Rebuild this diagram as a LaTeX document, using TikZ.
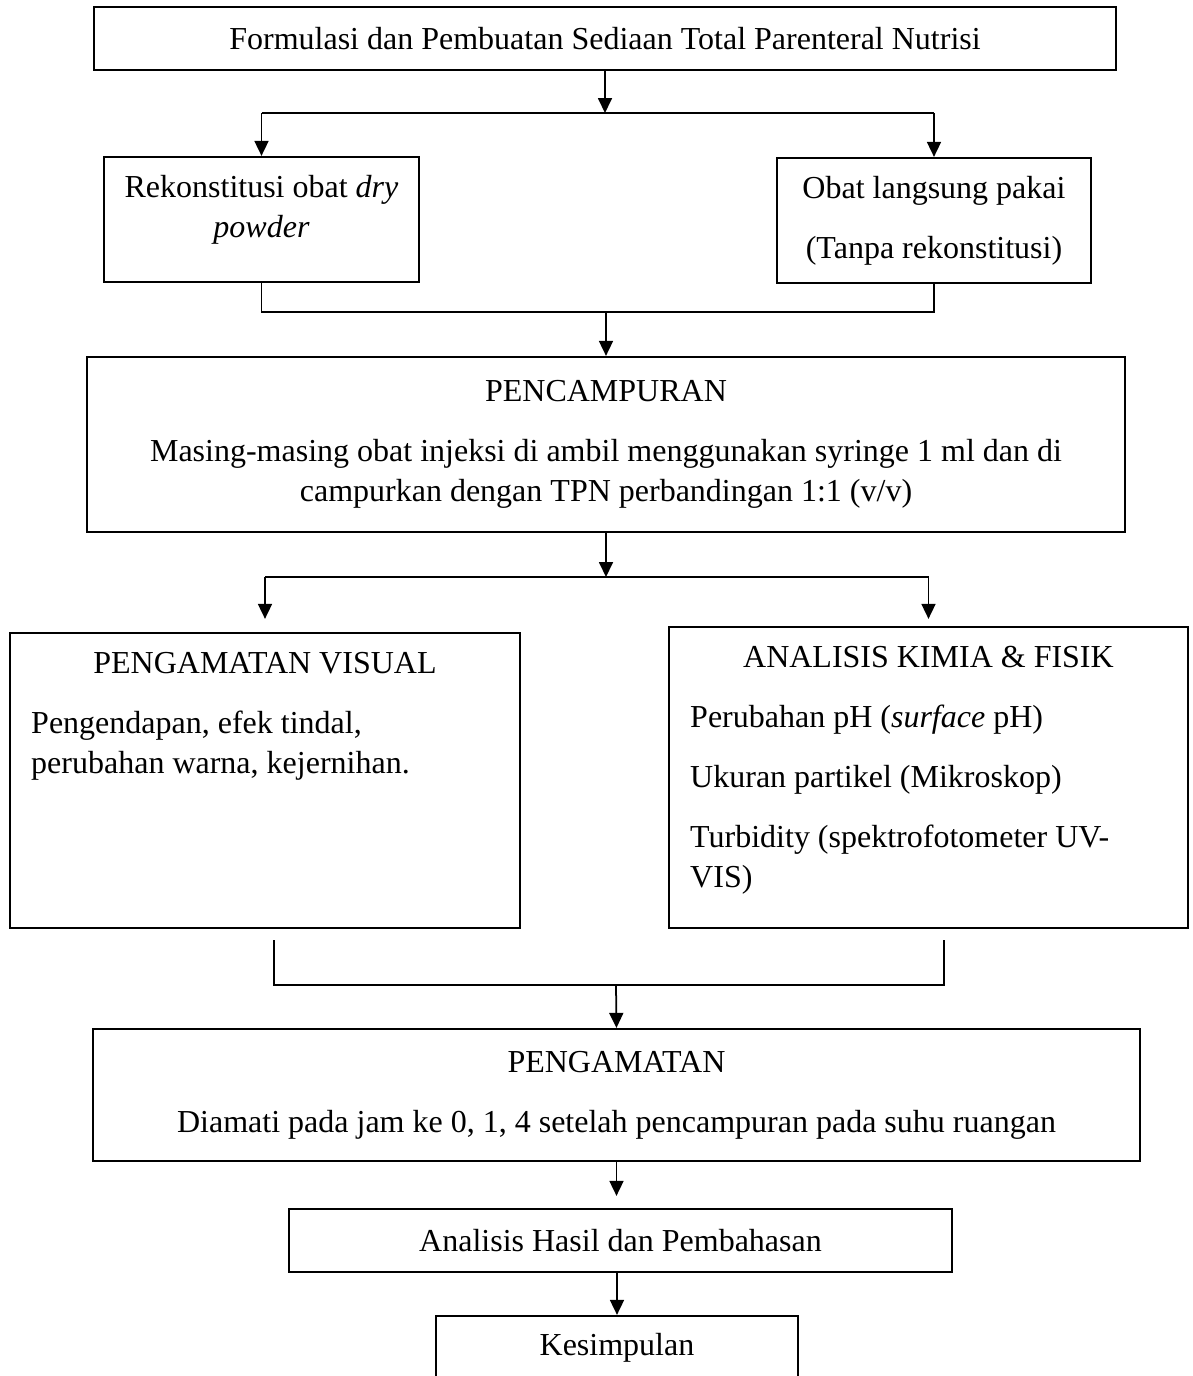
\documentclass[tikz,border=0pt]{standalone}
\usepackage{fontspec}
\setmainfont{Liberation Serif}
\usepackage{tikz}
\usetikzlibrary{arrows.meta}
\tikzset{
  kotak/.style={draw, line width=0.9pt, align=center, inner sep=0pt, font=\fontsize{12.8}{16}\selectfont},
  kotakatas/.style 2 args={draw, line width=0.9pt, inner xsep=8.5pt, inner ysep=0pt,
    execute at begin node={\begin{minipage}[c][#2][t]{#1}\fontsize{12.8}{16}\selectfont\vspace*{4.8pt}},
    execute at end node={\end{minipage}}},
  panah/.style={-{Triangle[length=6pt, width=5.6pt]}, line width=0.7pt},
  garis/.style={line width=0.5pt},
}
\begin{document}
\begin{tikzpicture}[x=0.4pt, y=-0.4pt]
  \useasboundingbox (0,0) rectangle (1193,1376);
  \clip (0,0) rectangle (1193,1376);
  \node[kotak, minimum width=408.8pt, minimum height=25.2pt] (judul) at (605,38.5) {Formulasi dan Pembuatan Sediaan Total Parenteral Nutrisi};
  \node[kotakatas={120pt}{50pt}, inner xsep=3pt] (rekon) at (261.5,219.5) {\centering\strut Rekonstitusi obat \textit{dry}\\\textit{powder}\par};
  \node[kotak, minimum width=125.6pt, minimum height=50pt] (langsung) at (934,220.5) {Obat langsung pakai\\[8pt](Tanpa rekonstitusi)};
  \node[kotak, minimum width=415.2pt, minimum height=70pt] (campur) at (606,444.5) {PENCAMPURAN\\[8pt]Masing-masing obat injeksi di ambil menggunakan syringe 1 ml dan di\\campurkan dengan TPN perbandingan 1:1 (v/v)};
  \node[kotakatas={187pt}{118pt}] (visual) at (265,780.5) {{\centering\strut PENGAMATAN VISUAL\par}\vspace{8pt}\raggedright Pengendapan, efek tindal,\\perubahan warna, kejernihan.\par};
  \node[kotakatas={190.6pt}{120.4pt}] (kimia) at (928.5,777.5) {{\centering\strut ANALISIS KIMIA \& FISIK\par}\vspace{8pt}\raggedright Perubahan pH (\textit{surface} pH)\\[8pt]Ukuran partikel (Mikroskop)\\[8pt]Turbidity (spektrofotometer UV-\\VIS)\par};
  \node[kotak, minimum width=418.8pt, minimum height=52.8pt] (amat) at (616.5,1095) {PENGAMATAN\\[8pt]Diamati pada jam ke 0, 1, 4 setelah pencampuran pada suhu ruangan};
  \node[kotak, minimum width=265.2pt, minimum height=25.2pt] (hasil) at (620.5,1240.5) {Analisis Hasil dan Pembahasan};
  \node[kotak, minimum width=144.8pt, minimum height=25.6pt] (simpul) at (617,1348) {Kesimpulan};
  \coordinate (cab1) at (605,113);
  \coordinate (gab1) at (606,312);
  \coordinate (cab2) at (606,577);
  \coordinate (gab2) at (616,985);
  \coordinate (kiri2) at (274,940);
  \coordinate (kanan2) at (944,940);
  \draw[panah] (judul.south) -- (cab1);
  \draw[garis] (rekon.north |- cab1) -- (langsung.north |- cab1);
  \draw[panah] (rekon.north |- cab1) -- (rekon.north);
  \draw[panah] (langsung.north |- cab1) -- (langsung.north);
  \draw[garis] (rekon.south) -- (rekon.south |- gab1) -- (langsung.south |- gab1) -- (langsung.south);
  \draw[panah] (gab1) -- (campur.north);
  \draw[panah] (campur.south) -- (cab2);
  \draw[garis] (visual.north |- cab2) -- (kimia.north |- cab2);
  \draw[panah, shorten >=5.2pt] (visual.north |- cab2) -- (visual.north);
  \draw[panah, shorten >=2.8pt] (kimia.north |- cab2) -- (kimia.north);
  \draw[garis] (kiri2) |- (gab2) -| (kanan2);
  \draw[panah] (gab2) -- (amat.north);
  \draw[panah, shorten >=4.8pt] (amat.south) -- (amat.south |- hasil.north);
  \draw[panah] (simpul.north |- hasil.south) -- (simpul.north);
\end{tikzpicture}
\end{document}
